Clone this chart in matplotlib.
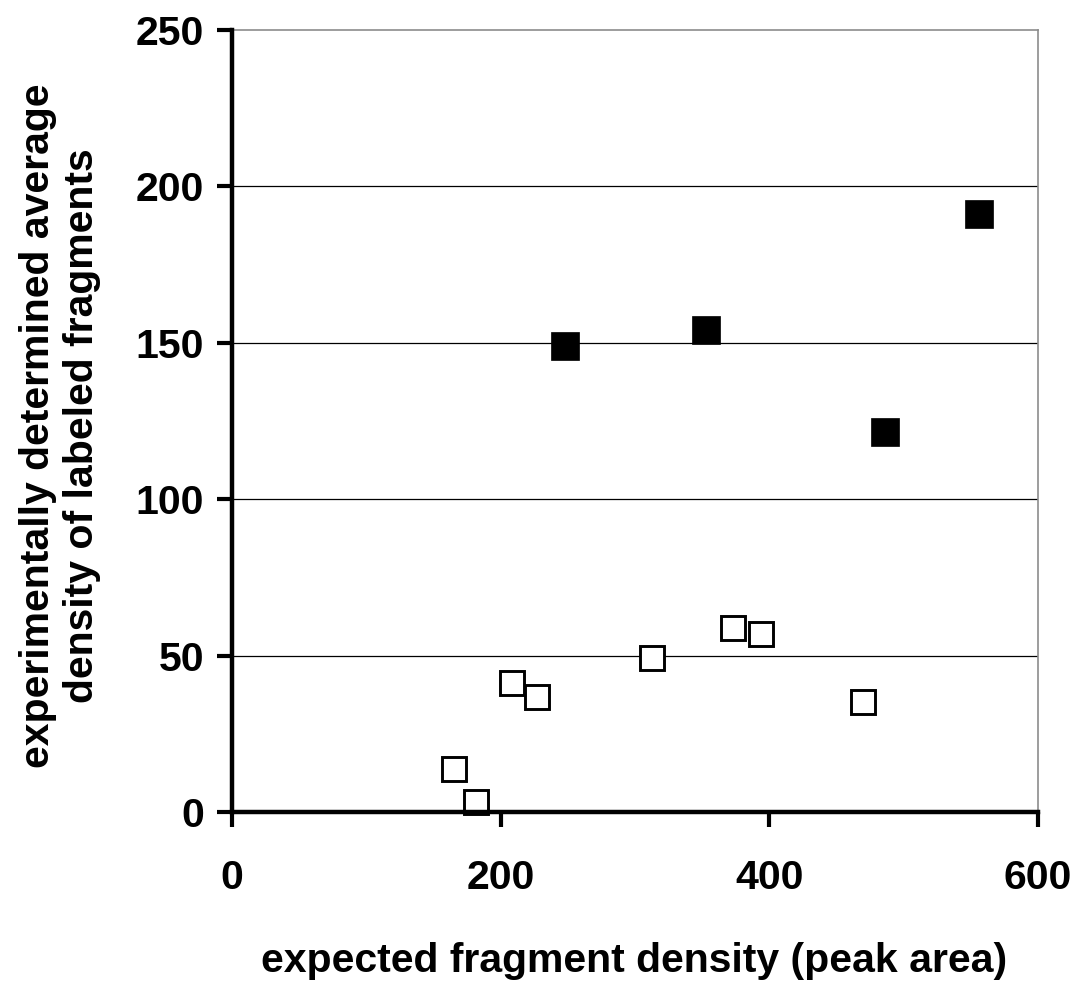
import matplotlib
matplotlib.use("Agg")
import matplotlib.pyplot as plt

plt.rcParams["font.family"] = ["Liberation Sans", "DejaVu Sans"]
plt.rcParams["font.weight"] = "bold"

# labelled fragments (filled) vs. others (open)
filled_x = [248, 353, 486, 556]
filled_y = [148.9, 154.2, 121.5, 191.3]
open_x = [165.5, 182, 208.7, 227.3, 313, 373, 394, 470]
open_y = [13.7, 3.1, 41.2, 36.8, 49.1, 58.9, 57.0, 35.1]

x_ticks = [0, 200, 400, 600]
y_ticks = [0, 50, 100, 150, 200, 250]

fig = plt.figure(figsize=(10.78, 9.84), dpi=100)
ax = fig.add_axes([232/1078, 1 - 812/984, (1038-232)/1078, (812-30)/984])

ax.set_xlim(0, 600)
ax.set_ylim(0, 250)
ax.set_xticks(x_ticks)
ax.set_yticks(y_ticks)

for yv in y_ticks[1:-1]:
    ax.axhline(yv, color="black", lw=0.9, zorder=1)

ax.plot(open_x, open_y, "s", ms=17.5, mfc="white", mec="black", mew=2.1,
        clip_on=False, zorder=3)
ax.plot(filled_x, filled_y, "s", ms=19.5, mfc="black", mec="black", mew=0.5,
        clip_on=False, zorder=3)

for side in ["left", "bottom"]:
    ax.spines[side].set_linewidth(3.2)
    ax.spines[side].set_zorder(4)
for side in ["top", "right"]:
    ax.spines[side].set_color("#8c8c8c")
    ax.spines[side].set_linewidth(1.2)

ax.tick_params(axis="both", direction="out", length=11, width=3,
               labelsize=29.5)
ax.tick_params(axis="x", pad=23)
ax.tick_params(axis="y", pad=9)
for lbl in ax.get_xticklabels() + ax.get_yticklabels():
    lbl.set_fontweight("bold")

fig.text(634/1078, 1 - 961/984, "expected fragment density (peak area)",
         ha="center", va="center", fontsize=29.5, fontweight="bold")
fig.text(60/1078, 1 - 426/984,
         "experimentally determined average\ndensity of labeled fragments",
         ha="center", va="center", rotation=90, fontsize=29.5,
         fontweight="bold", multialignment="center", linespacing=1.2)

fig.savefig("out.png", dpi=100, facecolor="white")
